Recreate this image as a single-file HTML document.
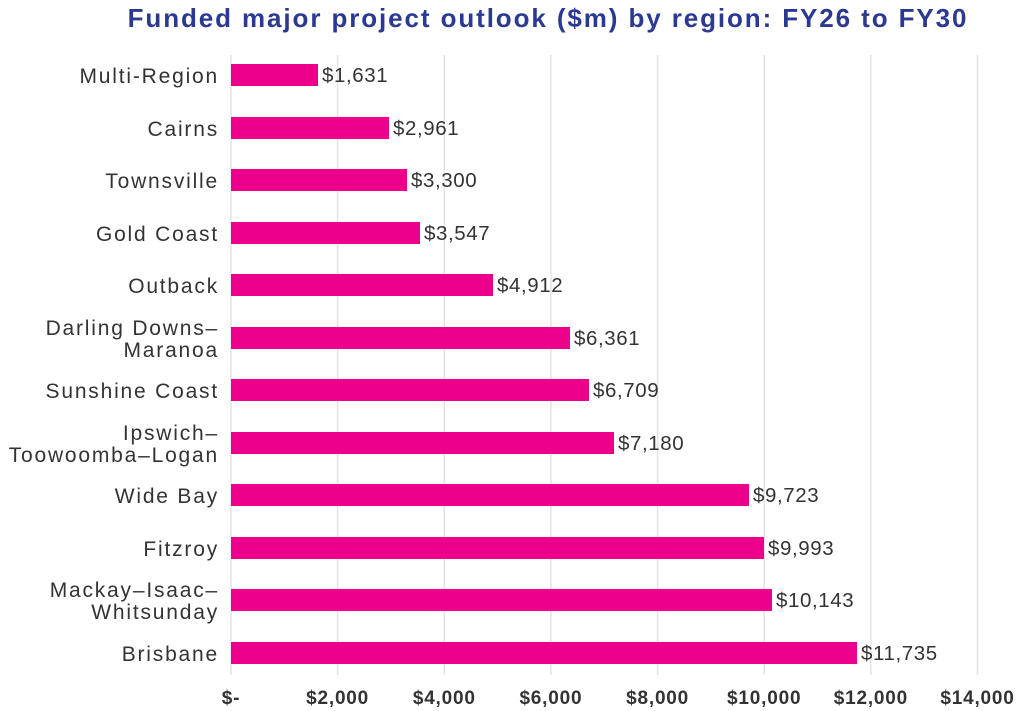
<!DOCTYPE html><html><head><style>body{margin:0;background:#fff}svg{display:block}</style></head><body>
<svg width="1024" height="711" xmlns="http://www.w3.org/2000/svg" font-family="Liberation Sans, sans-serif">
<text x="548" y="27" text-anchor="middle" font-size="26" font-weight="bold" fill="#2b3990" letter-spacing="1.9">Funded major project outlook ($m) by region: FY26 to FY30</text>
<g stroke="#e3e3e3" stroke-width="1.5">
<line x1="231" y1="55" x2="231" y2="675"/><line x1="337.6" y1="55" x2="337.6" y2="675"/><line x1="444.3" y1="55" x2="444.3" y2="675"/><line x1="550.9" y1="55" x2="550.9" y2="675"/><line x1="657.6" y1="55" x2="657.6" y2="675"/><line x1="764.2" y1="55" x2="764.2" y2="675"/><line x1="870.9" y1="55" x2="870.9" y2="675"/><line x1="977.5" y1="55" x2="977.5" y2="675"/>
</g>
<g font-size="19" font-weight="bold" fill="#333" text-anchor="middle" letter-spacing="0.8">
<text x="231" y="704">$-</text><text x="337.6" y="704">$2,000</text><text x="444.3" y="704">$4,000</text><text x="550.9" y="704">$6,000</text><text x="657.6" y="704">$8,000</text><text x="764.2" y="704">$10,000</text><text x="870.9" y="704">$12,000</text><text x="977.5" y="704">$14,000</text>
</g>
<g fill="#ec008c">
<rect x="231" y="64" width="87" height="22"/>
<rect x="231" y="117" width="158" height="22"/>
<rect x="231" y="169" width="176" height="22"/>
<rect x="231" y="222" width="189" height="22"/>
<rect x="231" y="274" width="262" height="22"/>
<rect x="231" y="327" width="339" height="22"/>
<rect x="231" y="379" width="358" height="22"/>
<rect x="231" y="432" width="383" height="22"/>
<rect x="231" y="484" width="518" height="22"/>
<rect x="231" y="537" width="533" height="22"/>
<rect x="231" y="589" width="541" height="22"/>
<rect x="231" y="642" width="626" height="22"/>
</g>
<g font-size="20.5" fill="#333" letter-spacing="0.6">
<text x="322" y="82">$1,631</text>
<text x="393" y="135">$2,961</text>
<text x="411" y="187">$3,300</text>
<text x="424" y="240">$3,547</text>
<text x="497" y="292">$4,912</text>
<text x="574" y="345">$6,361</text>
<text x="593" y="397">$6,709</text>
<text x="618" y="450">$7,180</text>
<text x="753" y="502">$9,723</text>
<text x="768" y="555">$9,993</text>
<text x="776" y="607">$10,143</text>
<text x="861" y="660">$11,735</text>
</g>
<g font-size="21" fill="#333" text-anchor="end" letter-spacing="1.8">
<text x="219" y="83">Multi-Region</text>
<text x="219" y="136">Cairns</text>
<text x="219" y="188">Townsville</text>
<text x="219" y="241">Gold Coast</text>
<text x="219" y="293">Outback</text>
<text x="219" y="335">Darling Downs–</text><text x="219" y="357">Maranoa</text>
<text x="219" y="398">Sunshine Coast</text>
<text x="219" y="440">Ipswich–</text><text x="219" y="462">Toowoomba–Logan</text>
<text x="219" y="503">Wide Bay</text>
<text x="219" y="556">Fitzroy</text>
<text x="219" y="597">Mackay–Isaac–</text><text x="219" y="619">Whitsunday</text>
<text x="219" y="661">Brisbane</text>
</g>
</svg></body></html>
